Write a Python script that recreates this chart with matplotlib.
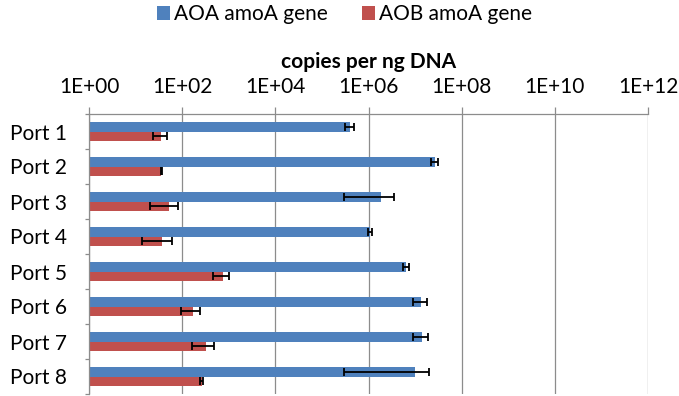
import numpy as np
import matplotlib; matplotlib.use("Agg")
import matplotlib.pyplot as plt
from matplotlib.ticker import FixedLocator, FixedFormatter

plt.rcParams["font.family"] = ["Lato", "DejaVu Sans"]

ports = ["Port 1", "Port 2", "Port 3", "Port 4", "Port 5", "Port 6", "Port 7", "Port 8"]
aoa = [4.1e5, 2.7e7, 1.9e6, 1.07e6, 6.5e6, 1.34e7, 1.38e7, 9.9e6]
aoa_err = [0.9e5, 4.5e6, 1.6e6, 1.1e5, 9e5, 4.3e6, 4.7e6, 9.6e6]
aob = [35, 35, 50, 36, 740, 170, 320, 260]
aob_err = [12, 1.5, 31, 23, 280, 75, 155, 15]
exps = [0, 2, 4, 6, 8, 10, 12]
tick_labels = [f"1E+{e:02d}" for e in exps]

BLUE, RED, GRID = "#4F81BD", "#C0504D", "#8C8C8C"

fig = plt.figure(figsize=(6.79, 3.96), dpi=100)
ax = fig.add_axes([89 / 679, 2 / 396, 559 / 679, 280 / 396])

y = np.arange(len(ports))
h = 0.27
ekw = dict(ecolor="black", elinewidth=1.3, capsize=3.2, capthick=1.3)
ax.barh(y - 0.135, aoa, height=h, left=1, color=BLUE, xerr=aoa_err,
        error_kw=ekw, label="AOA amoA gene", zorder=2)
ax.barh(y + 0.135, aob, height=h, left=1, color=RED, xerr=aob_err,
        error_kw=ekw, label="AOB amoA gene", zorder=2)

ax.set_xscale("log")
ax.set_xlim(1, 1e12)
ax.set_ylim(len(ports) - 0.5, -0.5)
ax.xaxis.set_major_locator(FixedLocator([10.0 ** e for e in exps]))
ax.xaxis.set_major_formatter(FixedFormatter(tick_labels))
ax.xaxis.set_minor_locator(FixedLocator([]))
ax.xaxis.tick_top()
ax.tick_params(axis="x", which="major", direction="out", length=5, width=0.9,
               color=GRID, labelsize=15, pad=7)
ax.set_yticks(y)
ax.set_yticklabels(ports)
ax.set_yticks(np.arange(-0.5, len(ports) + 0.5, 1), minor=True)
ax.tick_params(axis="y", which="major", length=0, labelsize=15, pad=16)
ax.tick_params(axis="y", which="minor", direction="out", length=3, width=0.9, color=GRID)

ax.grid(axis="x", color=GRID, linewidth=0.9, zorder=0)
ax.set_axisbelow(True)
for s in ["bottom", "right"]:
    ax.spines[s].set_visible(False)
for s in ["top", "left"]:
    ax.spines[s].set_color(GRID)
    ax.spines[s].set_linewidth(0.9)

ax.text(0.5, (394 - 62) / 280, "copies per ng DNA", transform=ax.transAxes,
        ha="center", va="center", fontsize=15, fontweight="bold")

fig.legend(loc="center", bbox_to_anchor=(344.5 / 679, 1 - 14 / 396), ncol=2,
           frameon=False, fontsize=15, handlelength=0.65, handleheight=0.65,
           handletextpad=0.2, columnspacing=1.6, borderpad=0)

fig.savefig("out.png", dpi=100)
